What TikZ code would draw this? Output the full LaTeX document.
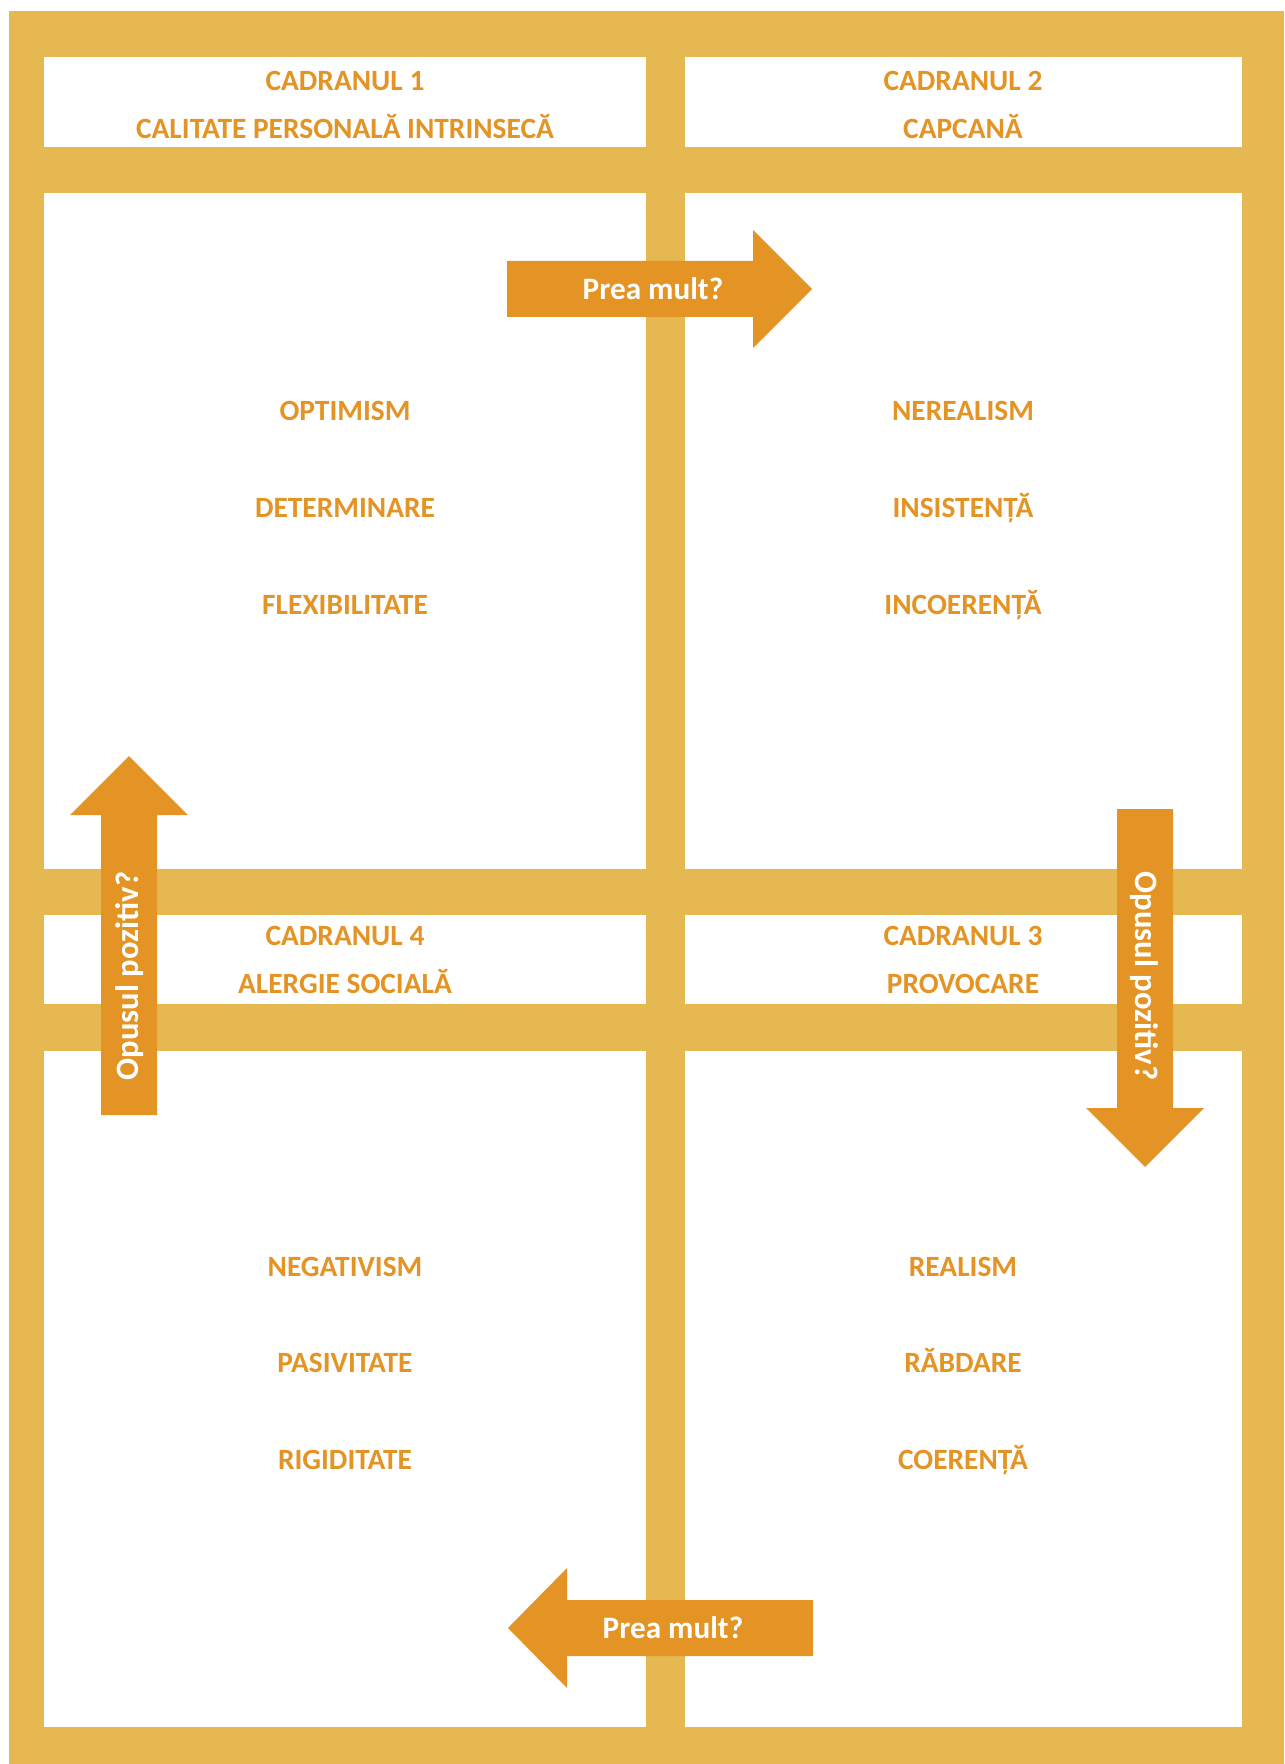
\documentclass[tikz,border=0pt]{standalone}
\usepackage{fontspec}
\setmainfont{Carlito}
\definecolor{frameyellow}{RGB}{230,184,81}
\definecolor{arroworange}{RGB}{227,148,37}
\tikzset{
  qtext/.style={font=\bfseries\fontsize{14.7}{18}\selectfont, text=arroworange, inner sep=0pt, text height=9.3pt, text depth=0pt},
  atext/.style={font=\bfseries\fontsize{15.6}{18}\selectfont, text=white, inner sep=0pt, text height=9.8pt, text depth=0pt},
  vtext/.style={atext, font=\bfseries\fontsize{16.3}{18}\selectfont},
}

\begin{document}
\begin{tikzpicture}[x=0.5pt,y=0.5pt,yscale=-1,xscale=1]
\useasboundingbox (0,0) rectangle (1284,1764);

%Shape: Rectangle (frame)
\fill[frameyellow] (9,11) rectangle (1284,1764);

%Shape: Rectangle (cells, two columns, four rows)
\foreach \ya/\yb in {57/147,193/869,915/1004,1051/1727}{
  \fill[white] (44,\ya) rectangle (646,\yb);
  \fill[white] (685,\ya) rectangle (1242,\yb);
}

%Shape: Right Arrow
\fill[arroworange] (507,261) -- (753,261) -- (753,230) -- (812,289) -- (753,348) -- (753,317) -- (507,317) -- cycle ;
%Shape: Left Arrow
\fill[arroworange] (813,1600) -- (567,1600) -- (567,1568) -- (508,1628) -- (567,1688) -- (567,1656) -- (813,1656) -- cycle ;
%Shape: Up Arrow
\fill[arroworange] (101,1115) -- (101,815) -- (70,815) -- (129,756) -- (188,815) -- (157,815) -- (157,1115) -- cycle ;
%Shape: Down Arrow
\fill[arroworange] (1117,809) -- (1117,1108) -- (1086,1108) -- (1145,1167) -- (1204,1108) -- (1173,1108) -- (1173,809) -- cycle ;

% Text Node
\node[qtext] (c1title) at (345,81) {CADRANUL 1};
\node[qtext] (c1name) at (345,129) {CALITATE PERSONALĂ INTRINSECĂ};
\node[qtext] (c2title) at (963,81) {CADRANUL 2};
\node[qtext] (c2name) at (963,129) {CAPCANĂ};
% Text Node
\node[qtext] (c4title) at (345,936) {CADRANUL 4};
\node[qtext] (c4name) at (345,984) {ALERGIE SOCIALĂ};
\node[qtext] (c3title) at (963,936) {CADRANUL 3};
\node[qtext] (c3name) at (963,984) {PROVOCARE};

% Text Node
\node[qtext] (optimism) at (345,411) {OPTIMISM};
\node[qtext] (determinare) at (345,508) {DETERMINARE};
\node[qtext] (flexibilitate) at (345,605) {FLEXIBILITATE};
\node[qtext] (nerealism) at (963,411) {NEREALISM};
\node[qtext] (insistenta) at (963,508) {INSISTENȚĂ};
\node[qtext] (incoerenta) at (963,605) {INCOERENȚĂ};
% Text Node
\node[qtext] (negativism) at (345,1267) {NEGATIVISM};
\node[qtext] (pasivitate) at (345,1363) {PASIVITATE};
\node[qtext] (rigiditate) at (345,1460) {RIGIDITATE};
\node[qtext] (realism) at (963,1267) {REALISM};
\node[qtext] (rabdare) at (963,1363) {RĂBDARE};
\node[qtext] (coerenta) at (963,1460) {COERENȚĂ};

% Text Node (arrows)
\node[atext] (preaup) at (653,290) {Prea mult?};
\node[atext] (preadown) at (673,1629) {Prea mult?};
\node[vtext, rotate=90] (opusleft) at (129,976) {Opusul pozitiv?};
\node[vtext, rotate=-90] (opusright) at (1145,976) {Opusul pozitiv?};

\end{tikzpicture}
\end{document}
